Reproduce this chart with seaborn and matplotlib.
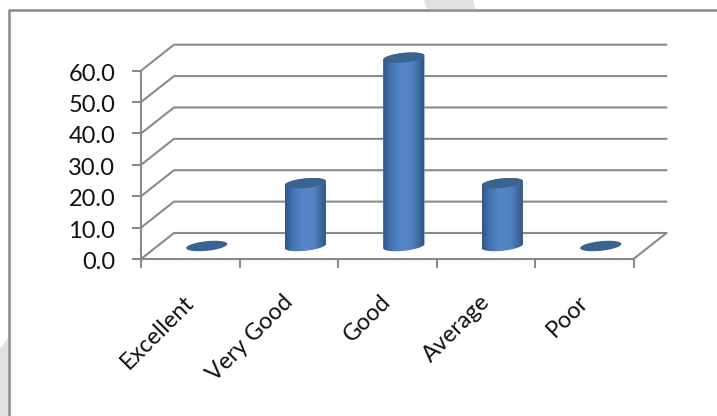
import numpy as np
import pandas as pd
import matplotlib
matplotlib.use("Agg")
import matplotlib.pyplot as plt
import seaborn as sns
from matplotlib.colors import LinearSegmentedColormap
from matplotlib.lines import Line2D
from matplotlib.patches import Polygon
from matplotlib.path import Path
from matplotlib.transforms import IdentityTransform, Affine2D

categories = ["Excellent", "Very Good", "Good", "Average", "Poor"]
values = [0.0, 20.0, 60.0, 20.0, 0.0]
y_ticks = [0, 10, 20, 30, 40, 50, 60]

W, H = 717, 416
GREY = "#8a8a8a"
DEPTH_X, DEPTH_Y = 33, 26

sns.set_theme(style="white")
plt.rcParams["font.family"] = ["Lato", "DejaVu Sans"]

fig = plt.figure(figsize=(W / 100, H / 100), dpi=100, facecolor="white")


def px_box(left, top, right, bottom):
    return [left / W, (H - bottom) / H, (right - left) / W, (bottom - top) / H]


# watermark bits and the frame, only top and left edges show
fig.add_artist(Polygon([[424 / W, 1], [473 / W, 1], [475 / W, (H - 9) / H], [427 / W, (H - 9) / H]],
                       transform=fig.transFigure, fc="#e0e0e0", ec="none"))
fig.add_artist(Polygon([[0, (H - 349) / H], [8 / W, (H - 338) / H], [8 / W, 0], [0, 0]],
                       transform=fig.transFigure, fc="#e0e0e0", ec="none"))
fig.add_artist(Line2D([1, 9 / W, 9 / W], [(H - 9.5) / H, (H - 9.5) / H, 0],
                      transform=fig.transFigure, color=GREY, lw=1.8))

# front plane of the 3d box
ax = fig.add_axes(px_box(141, 70.7, 633.5, 259))
ax.set_facecolor("none")
ax.set_xlim(-0.5, 4.5)
ax.set_ylim(0, 60)
for side in ["top", "right"]:
    ax.spines[side].set_visible(False)
for side in ["left", "bottom"]:
    ax.spines[side].set_color(GREY)
    ax.spines[side].set_linewidth(1.5)

ax.set_yticks(y_ticks)
ax.set_yticklabels([f"{v:.1f}" for v in y_ticks], fontsize=17, color="#111111")
ax.set_xticks(np.arange(-0.5, 5))
ax.set_xticklabels([])
ax.set_xticks(range(len(categories)), minor=True)
ax.set_xticklabels(categories, minor=True, rotation=45, ha="right", rotation_mode="anchor",
                   fontsize=16.8, color="#111111")
ax.tick_params(axis="both", which="major", length=6.5, width=1.5, color=GREY, left=True, bottom=True)
ax.tick_params(axis="y", pad=12)
ax.tick_params(axis="x", which="minor", length=0, pad=24)
for label in ax.get_xticklabels(minor=True):
    label.set_transform(label.get_transform() + Affine2D().translate(-7, 1))
for label in ax.get_yticklabels():
    label.set_transform(label.get_transform() + Affine2D().translate(0, -1.5))

# side and back wall gridlines
dx = DEPTH_X / (492.5 / 5)
dy = DEPTH_Y / (188.3 / 60)
for v in y_ticks:
    ax.plot([-0.5, -0.5 + dx, 4.5 + dx], [v, v + dy, v + dy], color=GREY, lw=1.5, clip_on=False, zorder=1)
ax.plot([4.5, 4.5 + dx], [0, dy], color=GREY, lw=1.5, clip_on=False, zorder=1)

# cylinders sit half way into the box
ax_bars = fig.add_axes(px_box(141 + 16.5, 70.7 - 13, 633.5 + 16.5, 259 - 13))
ax_bars.patch.set_alpha(0)
df = pd.DataFrame({"rating": categories, "percent": values})
sns.barplot(data=df, x="rating", y="percent", color="#5080c0", width=0.42, saturation=1, ax=ax_bars)
ax_bars.set_xlim(-0.5, 4.5)
ax_bars.set_ylim(0, 60)
ax_bars.axis("off")

side_cmap = LinearSegmentedColormap.from_list(
    "cyl", [(0, "#2f5689"), (0.15, "#3f70ab"), (0.4, "#5486c8"), (0.7, "#5282c2"), (0.9, "#3a6496"), (1, "#2e507c")])
gradient = np.linspace(0, 1, 128).reshape(1, -1)

rx, ry = 20.7, 4.8
tilt = np.deg2rad(6)


def ring(center, start, stop):
    t = np.deg2rad(np.linspace(start, stop, 60))
    x, y = rx * np.cos(t), ry * np.sin(t)
    return np.column_stack([center[0] + x * np.cos(tilt) - y * np.sin(tilt),
                            center[1] + x * np.sin(tilt) + y * np.cos(tilt)])


for bar in ax_bars.patches:
    cx = bar.get_x() + bar.get_width() / 2
    h = bar.get_height()
    base = ax_bars.transData.transform((cx, 0))
    top = ax_bars.transData.transform((cx, h))
    if h > 0:
        hull = Path(np.vstack([ring(base, 180, 360), ring(top, 0, 180)]))
        bar.set_clip_path(hull, IdentityTransform())
        im = ax_bars.imshow(gradient, cmap=side_cmap, aspect="auto", zorder=3,
                            extent=(bar.get_x(), bar.get_x() + bar.get_width(), -5, h + 5))
        im.set_clip_box(fig.bbox)
        im.set_clip_path(hull, IdentityTransform())
    else:
        bar.set_visible(False)
    ax_bars.add_patch(Polygon(ring(top, 0, 360), closed=True, transform=IdentityTransform(),
                              fc="#3a6392", ec="none", zorder=4, clip_on=False))
ax_bars.set_xlim(-0.5, 4.5)
ax_bars.set_ylim(0, 60)

fig.savefig("out.png", dpi=100)
